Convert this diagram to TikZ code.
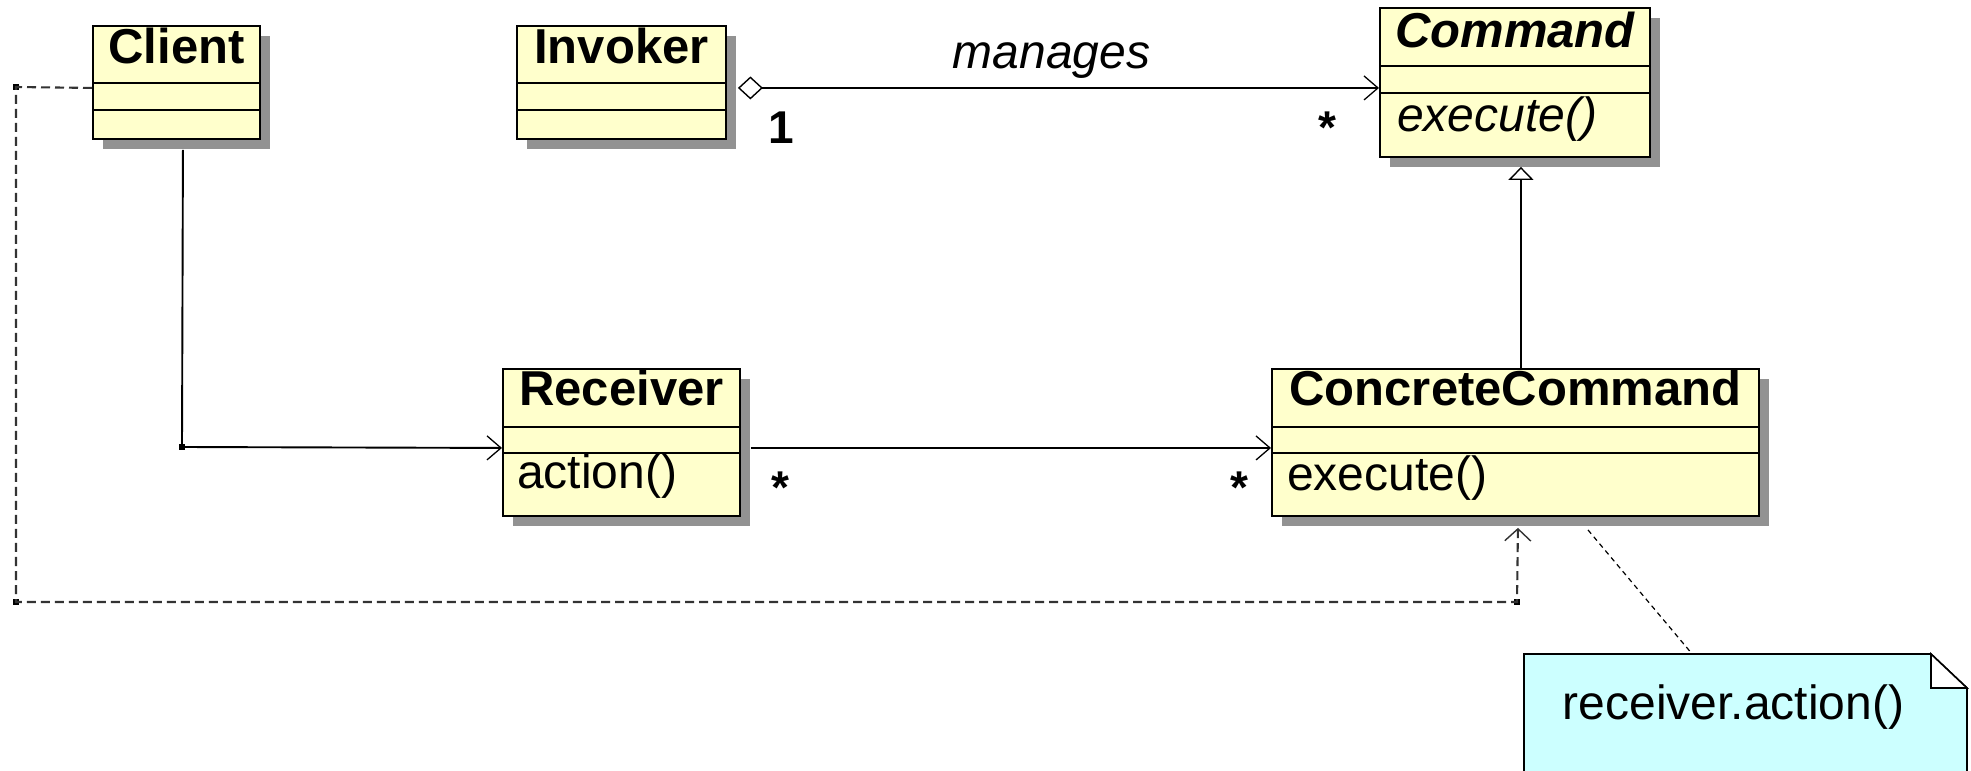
\documentclass[tikz,border=0pt]{standalone}
\usepackage{fontspec}
\setmainfont{Liberation Sans}
\usetikzlibrary{arrows.meta,shadows}
\definecolor{classfill}{RGB}{255,255,204}
\definecolor{notefill}{RGB}{204,255,255}
\definecolor{shadowgray}{RGB}{146,146,146}
\begin{document}
\begin{tikzpicture}[x=1pt,y=-1pt]

    \tikzset{
      classbox/.style={
        draw,
        line width=1.9pt,
        fill=classfill,
        inner sep=0pt,
        anchor=north west,
        drop shadow={shadow xshift=10pt, shadow yshift=-10pt, fill=shadowgray, opacity=1},
      },
      classname/.style={anchor=base, inner sep=0pt, font=\fontsize{49}{59}\selectfont\bfseries},
      operation/.style={anchor=base west, inner sep=0pt, font=\fontsize{48}{58}\selectfont},
      mult/.style={anchor=base, inner sep=0pt, font=\fontsize{46}{55}\selectfont\bfseries},
      joint/.style={fill, rectangle, inner sep=0pt, minimum size=6pt},
      assoc/.style={line width=1.9pt, -{Straight Barb[length=14pt,width=24pt,line width=1.3pt]}},
      aggregation/.style={line width=1.9pt, {Diamond[open,length=25pt,width=23pt,line width=1.4pt]}-{Straight Barb[length=14pt,width=24pt,line width=1.3pt]}},
      inherit/.style={line width=1.9pt, -{Triangle[open,length=13pt,width=25pt,line width=1.4pt]}},
      depend/.style={line width=2.1pt, black!80, dash pattern=on 9pt off 5pt, -{Straight Barb[length=12pt,width=26pt,line width=1.4pt]}},
      noteline/.style={line width=1.2pt, dash pattern=on 5pt off 4pt},
    }
    \useasboundingbox (0,0) rectangle (1971,771);

    \node[classbox, minimum width=167pt, minimum height=113pt] (client) at (92,25) {};
    \node[classbox, minimum width=209pt, minimum height=113pt] (invoker) at (516,25) {};
    \node[classbox, minimum width=270pt, minimum height=149pt] (command) at (1379,7) {};
    \node[classbox, minimum width=237pt, minimum height=147pt] (receiver) at (502,368) {};
    \node[classbox, minimum width=487pt, minimum height=147pt] (concrete) at (1271,368) {};

    \foreach \n/\a/\b in {client/58/85, invoker/58/85, command/59/86, receiver/59/85, concrete/59/85} {
      \draw[line width=1.9pt] ([yshift=-\a pt]\n.north west) -- ([yshift=-\a pt]\n.north east);
      \draw[line width=1.9pt] ([yshift=-\b pt]\n.north west) -- ([yshift=-\b pt]\n.north east);
    }

    \node[classname] (client-name) at ([yshift=-38pt]client.north) {Client};
    \node[classname] (invoker-name) at ([yshift=-38pt]invoker.north) {Invoker};
    \node[classname] (command-name) at ([yshift=-40pt]command.north) {\itshape Command};
    \node[classname] (receiver-name) at ([yshift=-37pt]receiver.north) {Receiver};
    \node[classname] (concrete-name) at ([yshift=-37pt]concrete.north) {ConcreteCommand};

    \node[operation] (command-op) at ([xshift=18pt,yshift=-124pt]command.north west) {\itshape execute()};
    \node[operation] (receiver-op) at ([xshift=15pt,yshift=-120pt]receiver.north west) {action()};
    \node[operation] (concrete-op) at ([xshift=16pt,yshift=-122pt]concrete.north west) {execute()};

    \draw[line width=1.6pt, fill=notefill] (1524,790) -- (1524,654) -- (1931,654) -- (1967,688) -- (1967,790);
    \draw[line width=1.6pt, fill=white] (1931,654) -- (1931,688) -- (1967,688) -- cycle;
    \node[operation, anchor=center, minimum width=443pt, minimum height=107pt] (note) at (1733.5,707.5) {receiver.action()};

    \node[joint] (j-client) at (182,447) {};
    \node[joint] (j-dep1) at (16,87) {};
    \node[joint] (j-dep2) at (16,602) {};
    \node[joint] (j-dep3) at (1517,602) {};

    \draw[aggregation] ([xshift=11pt,yshift=-5.5pt]invoker.east) -- ([yshift=-5.5pt]command.west);
    \draw[assoc] ([xshift=6.5pt,yshift=-10pt]client.south) -- (j-client.center) -- ([yshift=-5.5pt]receiver.west);
    \draw[assoc] ([xshift=10pt,yshift=-5.5pt]receiver.east) -- ([yshift=-5.5pt]concrete.west);
    \draw[inherit] ([xshift=5.5pt]concrete.north) -- ([xshift=6pt,yshift=-9pt]command.south);
    \draw[depend] ([yshift=-5.5pt]client.west) -- (j-dep1.center) -- (j-dep2.center) -- (j-dep3.center) -- ([xshift=2.5pt,yshift=-11pt]concrete.south);
    \draw[noteline] ([xshift=72.5pt,yshift=-13pt]concrete.south) -- ([xshift=-41.5pt]note.north);

    \node[anchor=base, inner sep=0pt, font=\fontsize{48}{58}\selectfont\itshape] (manages) at (1051.5,68) {manages};
    \node[mult] (mult-invoker) at (781.5,143) {1};
    \node[mult] (mult-command) at (1327,143) {*};
    \node[mult] (mult-receiver) at (780,503) {*};
    \node[mult] (mult-concrete) at (1239,503) {*};

\end{tikzpicture}
\end{document}
